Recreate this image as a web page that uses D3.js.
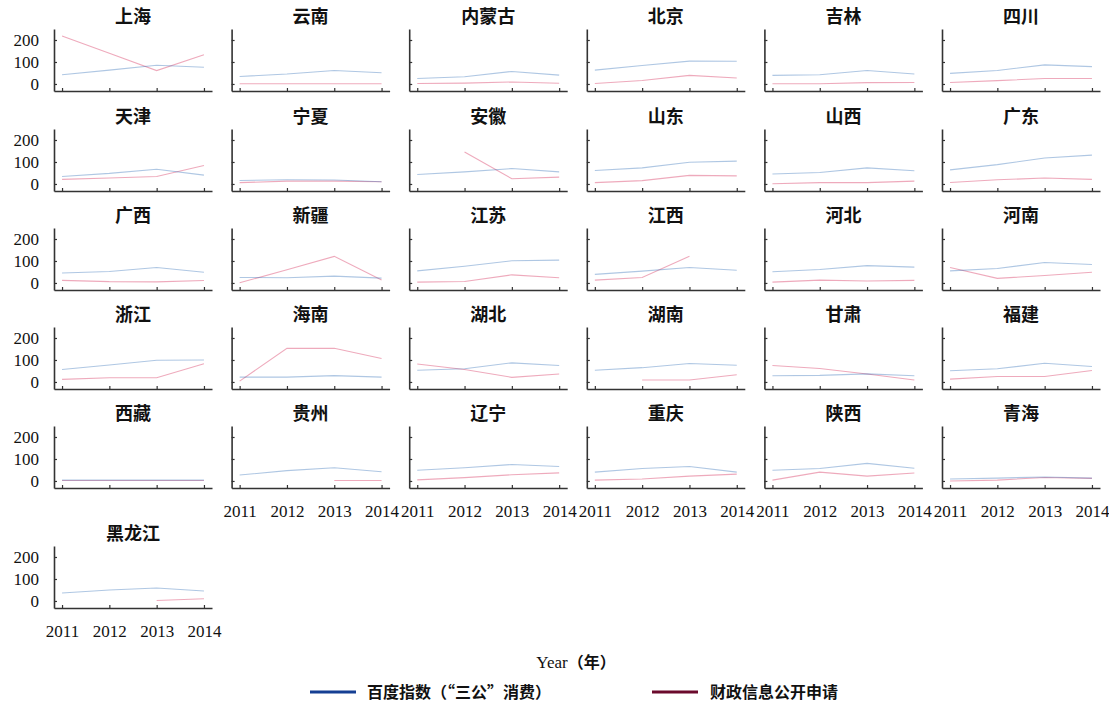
<!DOCTYPE html>
<html>
<head>
<meta charset="utf-8">
<script src="https://cdn.jsdelivr.net/npm/d3@7"></script>
<style>
  html, body { margin: 0; padding: 0; background: #fff; }
  svg { display: block; }
</style>
</head>
<body>
<svg id="chart" width="1109" height="704"></svg>
<script>
// Years on the x axis
const years = [2011, 2012, 2013, 2014];

// Provinces, in panel order (row by row)
const provinces = [
  "上海", "云南", "内蒙古", "北京", "吉林", "四川",
  "天津", "宁夏", "安徽", "山东", "山西", "广东",
  "广西", "新疆", "江苏", "江西", "河北", "河南",
  "浙江", "海南", "湖北", "湖南", "甘肃", "福建",
  "西藏", "贵州", "辽宁", "重庆", "陕西", "青海",
  "黑龙江"
];

// Baidu index for "three public expenses", per province, 2011-2014
const baiduIndex = [
  [42, 63, 85, 76], [34, 45, 61, 51], [25, 33, 57, 40], [63, 84, 104, 103], [39, 42, 61, 45], [48, 61, 87, 79],
  [34, 48, 67, 40], [16, 19, 18, 10], [43, 55, 70, 55], [61, 73, 99, 104], [45, 52, 73, 60], [64, 88, 118, 131],
  [45, 52, 70, 49], [25, 24, 31, 22], [55, 76, 101, 104], [39, 54, 70, 58], [51, 61, 79, 72], [55, 66, 93, 84],
  [57, 77, 99, 100], [22, 22, 29, 22], [53, 60, 87, 75], [53, 65, 84, 76], [28, 30, 37, 28], [51, 60, 85, 70],
  [4, 4, 4, 4], [27, 47, 60, 42], [49, 60, 75, 66], [40, 57, 66, 40], [49, 57, 80, 58], [9, 13, 18, 13],
  [36, 50, 59, 45]
];

// Fiscal information disclosure requests, per province, 2011-2014 (null = no data)
const fiscalRequests = [
  [218, 140, 61, 133], [1, 1, 1, 1], [2, 4, 9, 3], [2, 16, 39, 27], [1, 1, 6, 7], [7, 15, 25, 25],
  [21, 27, 34, 84], [6, 13, 13, 10], [null, 145, 24, 31], [6, 15, 39, 37], [1, 6, 6, 13], [7, 19, 27, 21],
  [12, 6, 5, 11], [1, 60, 121, 13], [4, 7, 37, 24], [13, 25, 122, null], [4, 13, 9, 12], [70, 21, 34, 49],
  [12, 19, 19, 83], [4, 153, 153, 107], [82, 57, 21, 36], [null, 9, 9, 33], [75, 61, 36, 9], [13, 25, 25, 52],
  [2, 2, 2, 2], [null, null, 2, 2], [5, 15, 28, 37], [4, 9, 22, 31], [4, 40, 22, 36], [0, 4, 16, 12],
  [null, null, 2, 10]
];

// Y axis tick values
const yTicks = [0, 100, 200];

// Series names shown in the legend
const seriesNames = ["百度指数（“三公”消费）", "财政信息公开申请"];

// ---- layout ----
const nCols = 6;
const colLeft0 = 54, colStep = 177.6, panelW = 158, plotH = 62;
const rowBottoms = [91, 191, 290, 389, 488, 608];

const lineColors = ["#2e6db5", "#d21f4e"];
const legendColors = ["#153f93", "#6b0a2c"];
const axisColor = "#333";
const serif = "'Liberation Serif', 'Times New Roman', serif";
const cjk = "'Noto Sans CJK SC', sans-serif";

const svg = d3.select("#chart");

const x = d3.scaleLinear().domain([2010.83, 2014.17]).range([0, panelW]);
const y = d3.scaleLinear().domain([-32, 250]).range([plotH, 0]);

const line = d3.line()
  .defined(d => d.v !== null)
  .x(d => x(d.year))
  .y(d => y(d.v));

// the lowest panel of each column carries the year labels
const nPanels = provinces.length;
function isBottomOfColumn(i) {
  return i + nCols >= nPanels;
}

provinces.forEach((name, i) => {
  const col = i % nCols, row = Math.floor(i / nCols);
  const left = colLeft0 + col * colStep;
  const top = rowBottoms[row] - plotH;
  const g = svg.append("g").attr("transform", `translate(${left},${top})`);

  // panel title
  g.append("text")
    .attr("x", panelW / 2)
    .attr("y", -6)
    .attr("text-anchor", "middle")
    .attr("font-family", cjk)
    .attr("font-weight", "bold")
    .attr("font-size", 18)
    .attr("fill", "#111")
    .text(name);

  // series lines (fiscal requests underneath, Baidu index on top)
  [fiscalRequests[i], baiduIndex[i]].forEach((vals, k) => {
    const s = 1 - k;
    const pts = years.map((yr, j) => ({ year: yr, v: vals[j] }));
    g.append("path")
      .datum(pts)
      .attr("fill", "none")
      .attr("stroke", lineColors[s])
      .attr("stroke-opacity", 0.38)
      .attr("stroke-width", 1.1)
      .attr("d", line);
  });

  // y axis
  const yAxis = d3.axisLeft(y)
    .tickValues(yTicks)
    .tickSize(-3)
    .tickSizeOuter(0)
    .tickPadding(15)
    .tickFormat(col === 0 ? d3.format("d") : () => "");
  const ya = g.append("g").call(yAxis);

  // x axis
  const xAxis = d3.axisBottom(x)
    .tickValues(years)
    .tickSize(-3)
    .tickSizeOuter(0)
    .tickPadding(17)
    .tickFormat(isBottomOfColumn(i) ? d3.format("d") : () => "");
  const xa = g.append("g").attr("transform", `translate(0,${plotH})`).call(xAxis);

  [ya, xa].forEach(a => {
    a.select(".domain").attr("stroke", axisColor).attr("stroke-width", 1.6);
    a.selectAll(".tick line").attr("stroke", axisColor).attr("stroke-width", 1.2);
    a.selectAll(".tick text")
      .attr("font-family", serif)
      .attr("font-size", 17)
      .attr("fill", "#111");
  });
});

// x axis title
const xt = svg.append("text")
  .attr("x", 576)
  .attr("y", 668)
  .attr("text-anchor", "middle")
  .attr("fill", "#111");
xt.append("tspan").attr("font-family", serif).attr("font-size", 17).text("Year");
xt.append("tspan").attr("font-family", cjk).attr("font-weight", "bold").attr("font-size", 16).text("（年）");

// legend
const legendX = [310, 652];
seriesNames.forEach((label, s) => {
  const lg = svg.append("g").attr("transform", `translate(${legendX[s]},692)`);
  lg.append("line")
    .attr("x1", 0).attr("x2", 46)
    .attr("y1", 0).attr("y2", 0)
    .attr("stroke", legendColors[s])
    .attr("stroke-width", 3);
  lg.append("text")
    .attr("x", 57 + (s === 1 ? 1 : 0))
    .attr("y", 0)
    .attr("dy", "0.36em")
    .attr("font-family", cjk)
    .attr("font-weight", "bold")
    .attr("font-size", 16)
    .attr("fill", "#111")
    .text(label);
});
</script>
</body>
</html>
